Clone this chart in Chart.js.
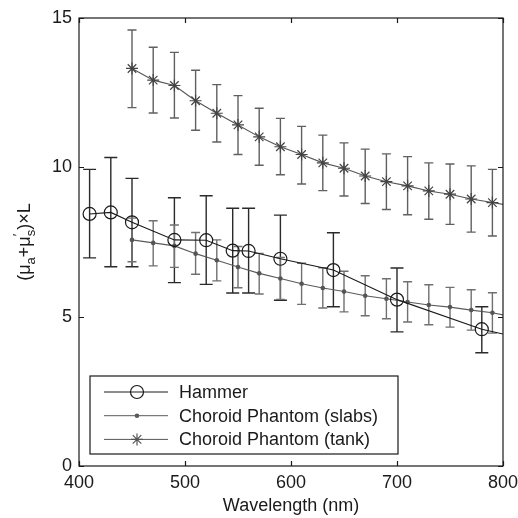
<!DOCTYPE html>
<html>
<head>
<meta charset="utf-8">
<script src="https://cdn.jsdelivr.net/npm/chart.js@4.4.1/dist/chart.umd.min.js"></script>
<style>
  html, body { margin: 0; padding: 0; background: #fff; }
  #wrap { width: 518px; height: 518px; position: relative; }
</style>
</head>
<body>
<div id="wrap"><canvas id="chart"></canvas></div>
<script>
// Hammer (last point lies past the axis, only the line runs to the edge)
const hammerWl  = [410, 430, 450, 490, 520, 545, 560, 590, 640, 700, 780, 820];
const hammerVal = [8.44, 8.49, 8.16, 7.57, 7.56, 7.21, 7.20, 6.94, 6.56, 5.57, 4.58, 4.26];
const hammerHi  = [9.93, 10.33, 9.63, 8.98, 9.05, 8.63, 8.63, 8.40, 7.81, 6.63, 5.33, null];
const hammerLo  = [6.97, 6.67, 6.67, 6.14, 6.08, 5.79, 5.79, 5.55, 5.33, 4.49, 3.79, null];

// Choroid phantom (slabs)
const slabWl  = [450, 470, 490, 510, 530, 550, 570, 590, 610, 630, 650, 670, 690, 710, 730, 750, 770, 790, 810];
const slabVal = [7.57, 7.47, 7.37, 7.11, 6.89, 6.66, 6.45, 6.28, 6.10, 5.96, 5.84, 5.70, 5.60, 5.49, 5.39, 5.32, 5.22, 5.13, 4.99];
const slabHi  = [8.30, 8.21, 8.07, 7.82, 7.57, 7.35, 7.12, 6.98, 6.79, 6.64, 6.52, 6.37, 6.27, 6.17, 6.07, 5.98, 5.90, 5.80, null];
const slabLo  = [6.84, 6.70, 6.65, 6.42, 6.20, 5.97, 5.76, 5.58, 5.41, 5.29, 5.16, 5.03, 4.93, 4.82, 4.73, 4.65, 4.55, 4.45, null];

// Choroid phantom (tank)
const tankWl  = [450, 470, 490, 510, 530, 550, 570, 590, 610, 630, 650, 670, 690, 710, 730, 750, 770, 790, 810];
const tankVal = [13.31, 12.92, 12.74, 12.23, 11.81, 11.42, 11.02, 10.69, 10.43, 10.15, 9.97, 9.71, 9.52, 9.38, 9.21, 9.10, 8.94, 8.82, 8.70];
const tankHi  = [14.60, 14.02, 13.85, 13.25, 12.77, 12.40, 11.98, 11.64, 11.37, 11.08, 10.82, 10.61, 10.45, 10.36, 10.15, 10.11, 10.05, 9.93, null];
const tankLo  = [12.00, 11.82, 11.65, 11.24, 10.85, 10.43, 10.07, 9.75, 9.44, 9.22, 9.04, 8.79, 8.59, 8.41, 8.26, 8.09, 7.83, 7.70, null];

const seriesNames = ['Hammer', 'Choroid Phantom (slabs)', 'Choroid Phantom (tank)'];
const xTicks = [400, 500, 600, 700, 800];
const yTicks = [0, 5, 10, 15];

const FONT = '"Liberation Sans", Arial, Helvetica, sans-serif';

function points(xs, ys) {
    return xs.map((x, i) => ({ x: x, y: ys[i] }));
}

const errorSets = [
    { hi: hammerHi, lo: hammerLo, xs: hammerWl, color: '#2a2a2a', cap: 6.5, width: 1.4 },
    { hi: slabHi, lo: slabLo, xs: slabWl, color: '#707070', cap: 4.5, width: 1.4 },
    { hi: tankHi, lo: tankLo, xs: tankWl, color: '#606060', cap: 4.5, width: 1.4 }
];

// error bars under the lines
const errorBars = {
    id: 'errorBars',
    beforeDatasetsDraw(chart) {
        const ctx = chart.ctx;
        const xs = chart.scales.x, ys = chart.scales.y;
        ctx.save();
        errorSets.forEach(s => {
            ctx.strokeStyle = s.color;
            ctx.lineWidth = s.width;
            s.xs.forEach((w, i) => {
                if (s.hi[i] == null) return;
                const px = xs.getPixelForValue(w);
                const top = ys.getPixelForValue(s.hi[i]);
                const bot = ys.getPixelForValue(s.lo[i]);
                ctx.beginPath();
                ctx.moveTo(px, top); ctx.lineTo(px, bot);
                ctx.moveTo(px - s.cap, top); ctx.lineTo(px + s.cap, top);
                ctx.moveTo(px - s.cap, bot); ctx.lineTo(px + s.cap, bot);
                ctx.stroke();
            });
        });
        ctx.restore();
    }
};

function drawMarker(ctx, kind, x, y) {
    ctx.beginPath();
    if (kind === 'circle') {
        ctx.arc(x, y, 6.5, 0, Math.PI * 2);
        ctx.stroke();
    } else if (kind === 'dot') {
        ctx.arc(x, y, 2.3, 0, Math.PI * 2);
        ctx.fill();
    } else {
        const r = 6, d = r * Math.SQRT1_2;
        ctx.moveTo(x - r, y); ctx.lineTo(x + r, y);
        ctx.moveTo(x, y - r); ctx.lineTo(x, y + r);
        ctx.moveTo(x - d, y - d); ctx.lineTo(x + d, y + d);
        ctx.moveTo(x - d, y + d); ctx.lineTo(x + d, y - d);
        ctx.stroke();
    }
}

// frame, inward ticks, axis titles and the boxed legend
const frame = {
    id: 'frame',
    afterDraw(chart) {
        const ctx = chart.ctx;
        const a = chart.chartArea;
        const xs = chart.scales.x, ys = chart.scales.y;
        ctx.save();
        ctx.strokeStyle = '#1a1a1a';
        ctx.lineWidth = 1.2;
        ctx.strokeRect(a.left, a.top, a.right - a.left, a.bottom - a.top);
        ctx.beginPath();
        xTicks.forEach(v => {
            const px = Math.round(xs.getPixelForValue(v)) + 0.5;
            ctx.moveTo(px, a.bottom); ctx.lineTo(px, a.bottom - 5);
            ctx.moveTo(px, a.top); ctx.lineTo(px, a.top + 5);
        });
        yTicks.forEach(v => {
            const py = Math.round(ys.getPixelForValue(v)) + 0.5;
            ctx.moveTo(a.left, py); ctx.lineTo(a.left + 5, py);
            ctx.moveTo(a.right, py); ctx.lineTo(a.right - 5, py);
        });
        ctx.stroke();

        // x title
        ctx.fillStyle = '#1a1a1a';
        ctx.font = '18px ' + FONT;
        ctx.textAlign = 'center';
        ctx.textBaseline = 'middle';
        ctx.fillText('Wavelength (nm)', (a.left + a.right) / 2, 506);

        // y title with sub/superscripts
        const parts = [
            { t: '(\u03bc', s: 0 }, { t: 'a', s: 1 }, { t: '+\u03bc', s: 0 },
            { t: '\u2032', s: 2, keep: true }, { t: 's', s: 1 }, { t: ')\u00d7L', s: 0 }
        ];
        const big = '18px ' + FONT, small = '13px ' + FONT;
        let total = 0;
        parts.forEach(p => {
            ctx.font = p.s ? small : big;
            p.w = ctx.measureText(p.t).width;
            if (!p.keep) total += p.w;
        });
        ctx.translate(24, (a.top + a.bottom) / 2);
        ctx.rotate(-Math.PI / 2);
        ctx.textAlign = 'left';
        ctx.textBaseline = 'alphabetic';
        let cx = -total / 2;
        parts.forEach(p => {
            ctx.font = p.s ? small : big;
            const dy = p.s === 1 ? 5 : (p.s === 2 ? -8 : 6);
            ctx.fillText(p.t, cx, dy + (p.s === 0 ? 0 : 6));
            if (!p.keep) cx += p.w;
        });
        ctx.restore();

        // legend
        ctx.save();
        const lx = a.left + 11, ly = a.bottom - 90, lw = 308, lh = 78;
        ctx.fillStyle = '#fff';
        ctx.fillRect(lx, ly, lw, lh);
        ctx.strokeStyle = '#1a1a1a';
        ctx.lineWidth = 1.2;
        ctx.strokeRect(lx, ly, lw, lh);
        const kinds = ['circle', 'dot', 'star'];
        const lineCols = ['#1a1a1a', '#5a5a5a', '#555'];
        ctx.font = '18px ' + FONT;
        ctx.textAlign = 'left';
        ctx.textBaseline = 'middle';
        seriesNames.forEach((name, i) => {
            const y = ly + 16 + i * 23.7;
            ctx.strokeStyle = lineCols[i];
            ctx.fillStyle = lineCols[i];
            ctx.lineWidth = 1;
            ctx.beginPath();
            ctx.moveTo(lx + 14, y); ctx.lineTo(lx + 78, y);
            ctx.stroke();
            ctx.lineWidth = 1.2;
            drawMarker(ctx, kinds[i], lx + 47, y);
            ctx.fillStyle = '#1a1a1a';
            ctx.fillText(name, lx + 89, y + 1);
        });
        ctx.restore();
    }
};

new Chart(document.getElementById('chart'), {
    type: 'line',
    data: {
        datasets: [
            {
                label: seriesNames[0],
                data: points(hammerWl, hammerVal),
                borderColor: '#1a1a1a',
                borderWidth: 1.1,
                pointStyle: 'circle',
                pointRadius: 6.5,
                pointBorderWidth: 1.2,
                pointBorderColor: '#1a1a1a',
                pointBackgroundColor: 'rgba(0,0,0,0)',
                tension: 0
            },
            {
                label: seriesNames[1],
                data: points(slabWl, slabVal),
                borderColor: '#5a5a5a',
                borderWidth: 1.1,
                pointStyle: 'circle',
                pointRadius: 2.3,
                pointBorderWidth: 0,
                pointBackgroundColor: '#555',
                tension: 0
            },
            {
                label: seriesNames[2],
                data: points(tankWl, tankVal),
                borderColor: '#555',
                borderWidth: 1.1,
                pointStyle: 'star',
                pointRadius: 6,
                pointBorderWidth: 1.2,
                pointBorderColor: '#444',
                tension: 0
            }
        ]
    },
    options: {
        responsive: true,
        maintainAspectRatio: false,
        animation: false,
        events: [],
        layout: { padding: { top: 18, right: 15, left: 0, bottom: 0 } },
        plugins: { legend: { display: false }, tooltip: { enabled: false } },
        scales: {
            x: {
                type: 'linear',
                min: 400, max: 800,
                grid: { display: false, drawTicks: false },
                border: { display: false },
                ticks: { stepSize: 100, padding: 6, color: '#1a1a1a', font: { family: FONT, size: 18 }, maxRotation: 0 },
                afterFit(scale) {
                    scale.height = 52;
                    scale.paddingLeft = 0;
                    scale.paddingRight = 0;
                }
            },
            y: {
                min: 0, max: 15,
                grid: { display: false, drawTicks: false },
                border: { display: false },
                ticks: { stepSize: 5, padding: 7, color: '#1a1a1a', font: { family: FONT, size: 18 } },
                afterFit(scale) {
                    scale.width = 79;
                    scale.paddingTop = 0;
                    scale.paddingBottom = 0;
                }
            }
        }
    },
    plugins: [errorBars, frame]
});
</script>
</body>
</html>
